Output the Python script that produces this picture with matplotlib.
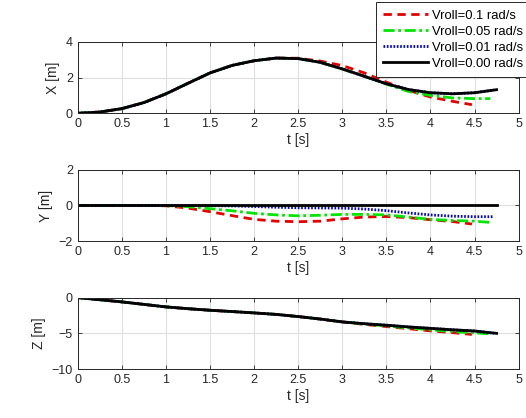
import matplotlib
matplotlib.use('Agg')
import matplotlib.pyplot as plt

plt.rcParams['font.family'] = ['Liberation Sans', 'DejaVu Sans']

# czas [s]
t_full = [0.0, 0.25, 0.5, 0.75, 1.0, 1.25, 1.5, 1.75, 2.0, 2.25, 2.5,
          2.75, 3.0, 3.25, 3.5, 3.75, 4.0, 4.25, 4.5, 4.75]
t_red = [0.0, 0.25, 0.5, 0.75, 1.0, 1.25, 1.5, 1.75, 2.0, 2.25, 2.5,
         2.75, 3.0, 3.25, 3.5, 3.75, 4.0, 4.25, 4.47]
t_green = [0.0, 0.25, 0.5, 0.75, 1.0, 1.25, 1.5, 1.75, 2.0, 2.25, 2.5,
           2.75, 3.0, 3.25, 3.5, 3.75, 4.0, 4.25, 4.5, 4.68]
t_blue = [0.0, 0.25, 0.5, 0.75, 1.0, 1.25, 1.5, 1.75, 2.0, 2.25, 2.5,
          2.75, 3.0, 3.25, 3.5, 3.75, 4.0, 4.25, 4.5, 4.72]

# X [m]
x_red = [0.0, 0.07, 0.26, 0.6, 1.09, 1.68, 2.26, 2.68, 2.94, 3.09, 3.08,
         2.92, 2.67, 2.26, 1.74, 1.28, 0.91, 0.67, 0.48]
x_green = [0.0, 0.07, 0.26, 0.6, 1.09, 1.68, 2.26, 2.68, 2.94, 3.09, 3.06,
           2.85, 2.48, 2.07, 1.63, 1.22, 1.0, 0.86, 0.82, 0.82]
x_blue = [0.0, 0.07, 0.26, 0.6, 1.09, 1.68, 2.26, 2.68, 2.94, 3.09, 3.06,
          2.85, 2.48, 2.07, 1.65, 1.33, 1.15, 1.09, 1.15, 1.3]
x_black = [0.0, 0.07, 0.26, 0.6, 1.09, 1.68, 2.26, 2.68, 2.94, 3.09, 3.06,
           2.85, 2.48, 2.07, 1.65, 1.33, 1.15, 1.09, 1.15, 1.32]

# Y [m]
y_red = [0.0, 0.0, 0.0, 0.0, -0.02, -0.15, -0.35, -0.57, -0.78, -0.88, -0.91,
         -0.88, -0.75, -0.65, -0.62, -0.68, -0.8, -0.9, -1.04]
y_green = [0.0, 0.0, 0.0, 0.0, -0.01, -0.07, -0.18, -0.3, -0.44, -0.53, -0.58,
           -0.55, -0.5, -0.5, -0.53, -0.65, -0.78, -0.84, -0.88, -0.95]
y_blue = [0.0, 0.0, 0.0, 0.0, 0.0, 0.0, -0.01, -0.03, -0.06, -0.1, -0.13,
          -0.14, -0.15, -0.2, -0.29, -0.42, -0.53, -0.6, -0.63, -0.63]
y_black = [0.0] * 20

# Z [m]
z_red = [0.0, -0.3, -0.6, -0.95, -1.3, -1.55, -1.77, -1.95, -2.14, -2.35, -2.65,
         -3.0, -3.4, -3.75, -4.05, -4.35, -4.65, -4.9, -5.15]
z_green = [0.0, -0.3, -0.6, -0.95, -1.3, -1.55, -1.77, -1.95, -2.14, -2.35, -2.65,
           -3.0, -3.4, -3.7, -3.95, -4.25, -4.5, -4.75, -4.95, -5.05]
z_blue = [0.0, -0.3, -0.6, -0.95, -1.3, -1.55, -1.77, -1.95, -2.14, -2.35, -2.65,
          -3.0, -3.4, -3.65, -3.86, -4.1, -4.3, -4.5, -4.67, -4.98]
z_black = [0.0, -0.3, -0.6, -0.95, -1.3, -1.55, -1.77, -1.95, -2.14, -2.35, -2.65,
           -3.0, -3.4, -3.65, -3.86, -4.1, -4.3, -4.5, -4.67, -5.0]

etykiety = ['Vroll=0.1 rad/s', 'Vroll=0.05 rad/s', 'Vroll=0.01 rad/s', 'Vroll=0.00 rad/s']
xticks = [0, 0.5, 1, 1.5, 2, 2.5, 3, 3.5, 4, 4.5, 5]
xticklabels = ['0', '0.5', '1', '1.5', '2', '2.5', '3', '3.5', '4', '4.5', '5']

fig = plt.figure(figsize=(5.26, 4.18), dpi=100)

panele = [
    ('X [m]', x_red, x_green, x_blue, x_black, (0, 4), [0, 2, 4], 0.729),
    ('Y [m]', y_red, y_green, y_blue, y_black, (-2, 2), [-2, 0, 2], 0.423),
    ('Z [m]', z_red, z_green, z_blue, z_black, (-10, 0), [-10, -5, 0], 0.117),
]

ciemny = '#262626'
linie = None
for nazwa, r, g, b, k, ylim, yticks, dol in panele:
    ax = fig.add_axes([0.148, dol, 0.838, 0.171])
    l1, = ax.plot(t_red, r, color='#e60000', ls=(0, (3, 2)), lw=2)
    l2, = ax.plot(t_green, g, color='#00e600', ls=(0, (4, 1.3, 1, 1.3)), lw=2)
    l3, = ax.plot(t_blue, b, color='#0000d9', ls=(0, (0.6, 0.6)), lw=2)
    l4, = ax.plot(t_full, k, color='black', ls='-', lw=2)
    if linie is None:
        linie = [l1, l2, l3, l4]
    ax.set_xlim(0, 5)
    ax.set_ylim(*ylim)
    ax.set_xticks(xticks)
    ax.set_xticklabels(xticklabels)
    ax.set_yticks(yticks)
    ax.grid(True, color='#dedede', lw=0.8)
    ax.set_axisbelow(True)
    ax.tick_params(direction='in', top=True, right=True, length=3,
                   labelsize=9, colors=ciemny, width=0.6)
    for s in ax.spines.values():
        s.set_color(ciemny)
        s.set_linewidth(0.7)
    ax.set_xlabel('t [s]', fontsize=10, color=ciemny, labelpad=2)
    ax.set_ylabel(nazwa, fontsize=10, color=ciemny, labelpad=4)

# legenda wychodzi poza gorna i prawa krawedz, jak w oryginale
leg = fig.legend(linie, etykiety, loc='lower left', bbox_to_anchor=(0.715, 0.816),
                 fontsize=9.4, handlelength=3.4, handletextpad=0.3, labelspacing=0.3,
                 borderpad=0.55, borderaxespad=0, fancybox=False, framealpha=1,
                 edgecolor=ciemny)
leg.get_frame().set_linewidth(0.7)

fig.savefig('out.png', dpi=100)
